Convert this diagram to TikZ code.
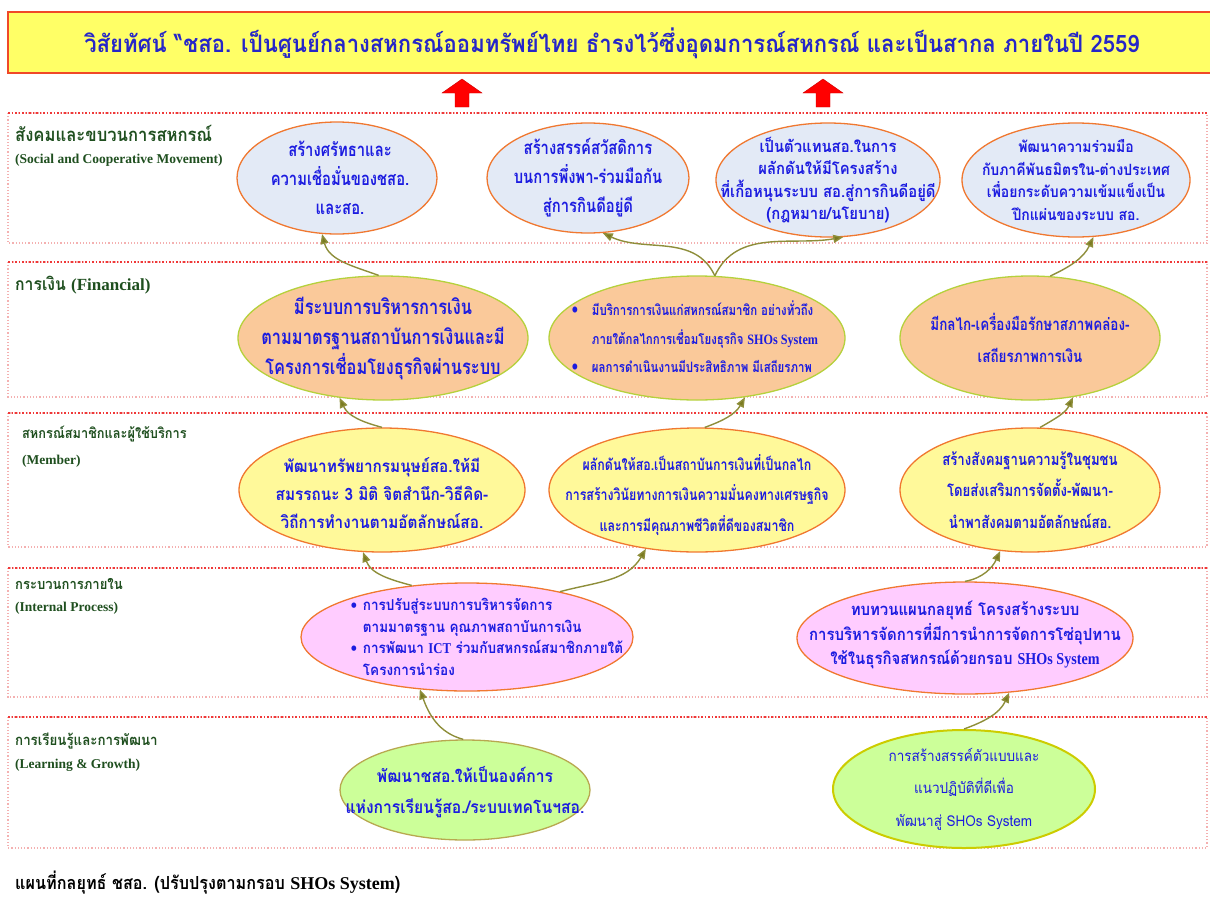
\documentclass[tikz,border=0pt]{standalone}
\usepackage{fontspec}
\usetikzlibrary{shapes.geometric,arrows.meta}
\newfontfamily\thf[Script=Thai,FakeStretch=0.8]{Loma}
\newfontfamily\thw[Script=Thai,FakeStretch=0.92]{Loma}
\newfontfamily\thr[Script=Thai,FakeStretch=0.9]{Loma}
\newfontfamily\enf[FakeStretch=0.85]{Liberation Serif}
\newfontfamily\enw{Liberation Serif}
\definecolor{titleblue}{HTML}{2626C8}
\definecolor{txtblue}{HTML}{1C1CE0}
\definecolor{lblgreen}{HTML}{1F4F1F}
\definecolor{oliveline}{HTML}{8E8E3A}
\definecolor{olivetip}{HTML}{7A7A20}
\definecolor{ttlyellow}{HTML}{FFFF66}
\definecolor{ttlred}{HTML}{F04828}
\definecolor{bluefill}{HTML}{E3EAF6}
\definecolor{orangeline}{HTML}{F07830}
\definecolor{peach}{HTML}{FAC99A}
\definecolor{yglime}{HTML}{B5D13C}
\definecolor{lyellow}{HTML}{FFF99A}
\definecolor{lpink}{HTML}{FFCCFF}
\definecolor{lgreen}{HTML}{CCFF99}
\definecolor{khaki}{HTML}{B8A850}
\definecolor{ybord}{HTML}{CCCC00}
\definecolor{dotred}{HTML}{F03838}
\definecolor{dotpink}{HTML}{F4B0B0}
\begin{document}
\begin{tikzpicture}[x=1pt,y=1pt,
  ell/.style={ellipse, draw, line width=1.3pt, inner sep=0pt},
  txt/.style={align=center, text=txtblue, inner sep=0pt},
  btxt/.style={align=left, text=txtblue, inner sep=0pt},
  rowbox/.style={draw=dotpink, dotted, line width=1.2pt},
  rowtop/.style={draw=dotred, dotted, line width=1.5pt},
  rowlbl/.style={anchor=west, text=lblgreen, inner sep=0pt},
  conn/.style={draw=oliveline, line width=1.4pt, -{Triangle[length=10pt,width=8pt,fill=olivetip]}},
  redarrow/.style={fill=red, draw=red!80!black, line width=0.4pt}
]
\useasboundingbox (0,0) rectangle (1210,-897);
% title
\draw[fill=ttlyellow, draw=ttlred, line width=1.6pt] (8,-12) rectangle (1216,-73);
\node[text=titleblue, inner sep=0pt, font={\thw\bfseries\fontsize{24}{28}\selectfont}] (title) at (612,-43)
  {วิสัยทัศน์ “ชสอ. เป็นศูนย์กลางสหกรณ์ออมทรัพย์ไทย ธำรงไว้ซึ่งอุดมการณ์สหกรณ์ และเป็นสากล ภายในปี 2559};
% red arrows
\fill[redarrow] (462,-79) -- (482,-93) -- (469,-93) -- (469,-107) -- (455,-107) -- (455,-93) -- (442,-93) -- cycle;
\fill[redarrow] (823,-79) -- (843,-93) -- (830,-93) -- (830,-107) -- (816,-107) -- (816,-93) -- (803,-93) -- cycle;
% rows
\foreach \t/\b in {113/243, 262/397, 413/547, 568/697, 717/848}{
  \draw[rowbox] (8,-\t) rectangle (1207,-\b);
  \draw[rowtop] (8,-\t) -- (1207,-\t);
}
% row labels
\node[rowlbl, font={\thr\bfseries\fontsize{18.5}{20}\selectfont}] (l1) at (15,-133) {สังคมและขบวนการสหกรณ์};
\node[rowlbl, font={\enw\bfseries\fontsize{13.5}{14}\selectfont}] (l1e) at (15,-160) {(Social and Cooperative Movement)};
\node[rowlbl, font={\thr\bfseries\fontsize{17.5}{20}\selectfont}] (l2) at (15,-285) {การเงิน {\enw\fontsize{17}{20}\selectfont (Financial)}};
\node[rowlbl, font={\thr\bfseries\fontsize{14.2}{16}\selectfont}] (l3) at (22,-434) {สหกรณ์สมาชิกและผู้ใช้บริการ};
\node[rowlbl, font={\enw\bfseries\fontsize{13.5}{14}\selectfont}] (l3e) at (22,-461) {(Member)};
\node[rowlbl, font={\thr\bfseries\fontsize{14.5}{17}\selectfont}] (l4) at (15,-584) {กระบวนการภายใน};
\node[rowlbl, font={\enw\bfseries\fontsize{13.5}{14}\selectfont}] (l4e) at (15,-608) {(Internal Process)};
\node[rowlbl, font={\thr\bfseries\fontsize{14.8}{17}\selectfont}] (l5) at (15,-741) {การเรียนรู้และการพัฒนา};
\node[rowlbl, font={\enw\bfseries\fontsize{13.5}{14}\selectfont}] (l5e) at (15,-765) {(Learning \& Growth)};
% caption
\node[anchor=west, inner sep=0pt, font={\thr\bfseries\fontsize{18}{19}\selectfont}] (cap) at (15,-883) {แผนที่กลยุทธ์ ชสอ. (ปรับปรุงตามกรอบ {\enw SHOs System})};

% row 1 ellipses
\node[ell, fill=bluefill, draw=orangeline, minimum width=200pt, minimum height=112pt] (e1a) at (337,-178) {};
\node[txt, font={\thf\bfseries\fontsize{18.5}{29}\selectfont}] (t1a) at ([xshift=3pt]e1a) {สร้างศรัทธาและ\\ความเชื่อมั่นของชสอ.\\และสอ.};
\node[ell, fill=bluefill, draw=orangeline, minimum width=202pt, minimum height=110pt] (e1b) at (588,-178) {};
\node[txt, font={\thf\bfseries\fontsize{18.5}{29}\selectfont}] (t1b) at (e1b) {สร้างสรรค์สวัสดิการ\\บนการพึ่งพา-ร่วมมือกัน\\สู่การกินดีอยู่ดี};
\node[ell, fill=bluefill, draw=orangeline, minimum width=224pt, minimum height=114pt] (e1c) at (828,-180) {};
\node[txt, font={\thr\bfseries\fontsize{16.5}{22.5}\selectfont}] (t1c) at (e1c) {เป็นตัวแทนสอ.ในการ\\ผลักดันให้มีโครงสร้าง\\ที่เกื้อหนุนระบบ สอ.สู่การกินดีอยู่ดี\\(กฎหมาย/นโยบาย)};
\node[ell, fill=bluefill, draw=orangeline, minimum width=228pt, minimum height=114pt] (e1d) at (1076,-180) {};
\node[txt, font={\thr\bfseries\fontsize{15.5}{22.5}\selectfont}] (t1d) at (e1d) {พัฒนาความร่วมมือ\\กับภาคีพันธมิตรใน-ต่างประเทศ\\เพื่อยกระดับความเข้มแข็งเป็น\\ปึกแผ่นของระบบ สอ.};

% row 2 ellipses
\node[ell, fill=peach, draw=yglime, minimum width=290pt, minimum height=124pt] (e2a) at (383,-338) {};
\node[txt, font={\thf\bfseries\fontsize{20.5}{30}\selectfont}] (t2a) at (e2a) {มีระบบการบริหารการเงิน\\ตามมาตรฐานสถาบันการเงินและมี\\โครงการเชื่อมโยงธุรกิจผ่านระบบ};
\node[ell, fill=peach, draw=yglime, minimum width=296pt, minimum height=124pt] (e2b) at (697,-338) {};
\node[btxt, font={\thf\bfseries\fontsize{14.3}{28.5}\selectfont}] (t2b) at ([xshift=-2pt,yshift=1pt]e2b) {\makebox[20pt][l]{\fontsize{17}{17}\selectfont\textbullet}มีบริการการเงินแก่สหกรณ์สมาชิก อย่างทั่วถึง\\
  \hspace*{20pt}ภายใต้กลไกการเชื่อมโยงธุรกิจ {\enf SHOs System}\\
  \makebox[20pt][l]{\fontsize{17}{17}\selectfont\textbullet}ผลการดำเนินงานมีประสิทธิภาพ มีเสถียรภาพ};
\node[ell, fill=peach, draw=yglime, minimum width=260pt, minimum height=124pt] (e2c) at (1030,-338) {};
\node[txt, font={\thf\bfseries\fontsize{16.8}{32}\selectfont}] (t2c) at (e2c) {มีกลไก-เครื่องมือรักษาสภาพคล่อง-\\เสถียรภาพการเงิน};

% row 3 ellipses
\node[ell, fill=lyellow, draw=orangeline, minimum width=286pt, minimum height=124pt] (e3a) at (382,-490) {};
\node[txt, font={\thr\bfseries\fontsize{17}{28}\selectfont}] (t3a) at ([yshift=-3pt]e3a) {พัฒนาทรัพยากรมนุษย์สอ.ให้มี\\สมรรถนะ 3 มิติ จิตสำนึก-วิธีคิด-\\วิถีการทำงานตามอัตลักษณ์สอ.};
\node[ell, fill=lyellow, draw=orangeline, minimum width=296pt, minimum height=124pt] (e3b) at (697,-490) {};
\node[txt, font={\thf\bfseries\fontsize{15.5}{30.5}\selectfont}] (t3b) at ([yshift=-5pt]e3b) {ผลักดันให้สอ.เป็นสถาบันการเงินที่เป็นกลไก\\การสร้างวินัยทางการเงินความมั่นคงทางเศรษฐกิจ\\และการมีคุณภาพชีวิตที่ดีของสมาชิก};
\node[ell, fill=lyellow, draw=orangeline, minimum width=260pt, minimum height=124pt] (e3c) at (1030,-490) {};
\node[txt, font={\thf\bfseries\fontsize{16.5}{31.5}\selectfont}] (t3c) at (e3c) {สร้างสังคมฐานความรู้ในชุมชน\\โดยส่งเสริมการจัดตั้ง-พัฒนา-\\นำพาสังคมตามอัตลักษณ์สอ.};

% row 4 ellipses
\node[ell, fill=lpink, draw=orangeline, minimum width=332pt, minimum height=108pt] (e4a) at (467,-637) {};
\node[btxt, font={\thr\bfseries\fontsize{15}{21.5}\selectfont}] (t4a) at ([xshift=20pt]e4a) {\makebox[12pt][l]{\fontsize{15}{15}\selectfont\textbullet}การปรับสู่ระบบการบริหารจัดการ\\
  \hspace*{12pt}ตามมาตรฐาน คุณภาพสถาบันการเงิน\\
  \makebox[12pt][l]{\fontsize{15}{15}\selectfont\textbullet}การพัฒนา {\enf ICT} ร่วมกับสหกรณ์สมาชิกภายใต้\\
  \hspace*{12pt}โครงการนำร่อง};
\node[ell, fill=lpink, draw=orangeline, minimum width=336pt, minimum height=112pt] (e4b) at (965,-638) {};
\node[txt, font={\thr\bfseries\fontsize{16.6}{24.5}\selectfont}] (t4b) at ([yshift=3pt]e4b) {ทบทวนแผนกลยุทธ์ โครงสร้างระบบ\\การบริหารจัดการที่มีการนำการจัดการโซ่อุปทาน\\ใช้ในธุรกิจสหกรณ์ด้วยกรอบ {\enf SHOs System}};

% row 5 ellipses
\node[ell, fill=lgreen, draw=khaki, minimum width=250pt, minimum height=100pt] (e5a) at (465,-790) {};
\node[txt, font={\thr\bfseries\fontsize{17.4}{31}\selectfont}] (t5a) at ([yshift=-2pt]e5a) {พัฒนาชสอ.ให้เป็นองค์การ\\แห่งการเรียนรู้สอ./ระบบเทคโนฯสอ.};
\node[ell, fill=lgreen, draw=ybord, line width=2pt, minimum width=262pt, minimum height=118pt] (e5b) at (964,-789) {};
\node[txt, font={\thr\fontsize{15}{32.5}\selectfont}] (t5b) at (e5b) {การสร้างสรรค์ตัวแบบและ\\แนวปฏิบัติที่ดีเพื่อ\\พัฒนาสู่ SHOs System};

% connectors
\draw[conn] (e2a.94) to[out=160,in=-75] (e1a.255);
\draw[conn] (e2b.74) to[out=115,in=-25] (e1b.285);
\draw[conn] (e2b.74) to[out=65,in=190] (e1c.285);
\draw[conn] (e2c.72) to[out=25,in=-115] (e1d.287);
\draw[conn] (e3a.90) to[out=165,in=-65] (e2a.234);
\draw[conn] (e3b.83) to[out=20,in=-120] (e2b.309);
\draw[conn] (e3c.81) to[out=30,in=-115] (e2c.306);
\draw[conn] (e4a.137) to[out=165,in=-70] (e3a.253);
\draw[conn] (e4a.26) to[out=15,in=-120] (e3b.229);
\draw[conn] (e4b.90) to[out=10,in=-115] (e3c.244);
\draw[conn] (e5a.92) to[out=165,in=-70] (e4a.228);
\draw[conn] (e5b.90) to[out=20,in=-115] (e4b.309);
\end{tikzpicture}
\end{document}
